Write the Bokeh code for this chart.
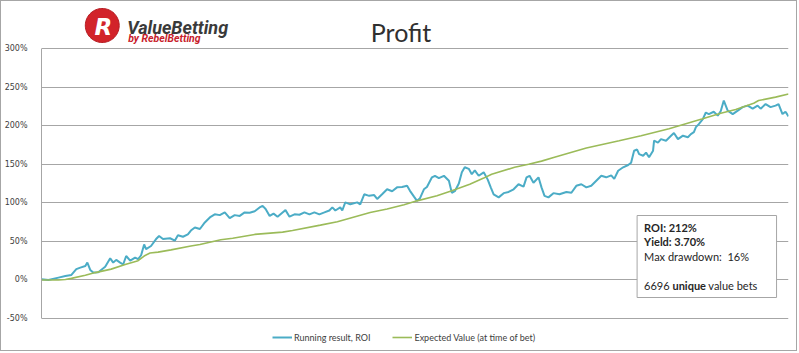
import numpy as np
from bokeh.plotting import figure
from bokeh.models import (Range1d, FixedTicker, Legend, LegendItem, Label,
                          BoxAnnotation, PolyAnnotation)
from bokeh.embed import file_html
from bokeh.resources import INLINE

# ---------------- data ----------------
N_BETS = 6696

run_bets = [0, 62, 152, 214, 268, 312, 348, 393, 411, 437,
            464, 509, 571, 616, 643, 670, 705, 732, 759, 795,
            839, 866, 893, 920, 937, 982, 1027, 1054, 1089, 1152,
            1196, 1223, 1268, 1312, 1339, 1375, 1420, 1464, 1509, 1553,
            1598, 1643, 1687, 1732, 1777, 1821, 1866, 1911, 1955, 1982,
            2009, 2045, 2080, 2116, 2161, 2187, 2223, 2268, 2312, 2357,
            2402, 2446, 2491, 2536, 2580, 2607, 2634, 2678, 2696, 2723,
            2768, 2830, 2857, 2893, 2937, 2982, 3009, 3053, 3098, 3143,
            3187, 3232, 3277, 3303, 3339, 3366, 3393, 3428, 3455, 3500,
            3527, 3562, 3607, 3652, 3678, 3705, 3741, 3768, 3794, 3830,
            3857, 3884, 3919, 3964, 4000, 4027, 4053, 4098, 4143, 4187,
            4232, 4276, 4321, 4348, 4375, 4410, 4455, 4482, 4509, 4544,
            4589, 4643, 4705, 4750, 4794, 4839, 4884, 4928, 4973, 5018,
            5062, 5107, 5134, 5169, 5214, 5259, 5285, 5312, 5339, 5357,
            5393, 5419, 5446, 5482, 5491, 5526, 5553, 5598, 5643, 5669,
            5705, 5750, 5794, 5821, 5848, 5866, 5892, 5928, 5955, 5982,
            6026, 6062, 6089, 6116, 6151, 6196, 6241, 6285, 6330, 6375,
            6419, 6446, 6491, 6535, 6580, 6607, 6642, 6669, 6696]

run_roi = [1, 0, 3, 5, 6.5, 14, 16, 18, 22.5, 13,
           9.5, 10, 17, 28, 22.5, 26, 22.5, 20, 31, 25,
           29, 27, 32, 46, 40, 44, 53, 57, 53, 54,
           51, 58, 56, 59, 64, 68, 66, 74.5, 81, 85,
           84, 87.5, 80, 84, 83, 87.5, 87, 89, 94, 96,
           92, 83, 86, 82, 87.5, 90.5, 82, 85, 84.5, 87.5,
           85, 87.5, 85, 87.5, 90, 94, 90, 94, 90, 100.5,
           98, 100.5, 98, 111, 109, 110, 105, 111, 117.5, 115,
           120, 120.5, 122, 115.5, 108, 102.5, 106, 117.5, 120.5, 133,
           135, 132, 135, 128.5, 113, 115, 125, 139.5, 146, 144,
           137, 142, 135, 139.5, 130, 120, 111, 107, 112.5, 114,
           117.5, 124, 121, 133, 135, 126, 133, 120, 109, 107,
           112.5, 111, 114, 113, 122, 124, 120, 122, 128.5, 135,
           133, 135.5, 131, 141.5, 146, 149, 152, 167.5, 169, 163,
           161, 165, 159, 167.5, 180.5, 178, 182.5, 180.5, 187, 190.5,
           182.5, 187, 185, 189, 191.5, 198, 202, 208.5, 217, 215,
           218, 213, 219, 232.5, 219.5, 215, 219.5, 224, 226, 222,
           226, 222, 228, 224, 226, 228, 215, 218, 212]

ev_bets = [0, 152, 214, 268, 393, 482, 625, 750, 866, 920,
           973, 1045, 1161, 1339, 1420, 1607, 1714, 1911, 2161, 2250,
           2500, 2652, 2946, 3098, 3250, 3366, 3545, 3678, 3839, 3964,
           4035, 4241, 4366, 4482, 4598, 4884, 5178, 5375, 5625, 5919,
           6089, 6223, 6384, 6428, 6580, 6696]

ev_roi = [0, 0, 0.5, 2, 6, 9.5, 14, 20, 25, 31,
          35, 36, 39, 44, 46, 52, 54, 59, 62, 64,
          71, 75.5, 87.5, 92, 97.5, 102.5, 109, 115.5, 124, 132,
          137, 146, 150, 154, 159, 171, 180.5, 187, 196, 208.5,
          216, 221, 229, 232.5, 237, 241]

y_ticks = [-50, 0, 50, 100, 150, 200, 250, 300]
y_tick_labels = ["-50%", "0%", "50%", "100%", "150%", "200%", "250%", "300%"]

series_names = ["Running result, ROI", "Expected Value (at time of bet)"]
title_text = "Profit"
stats_lines = ["ROI: 212%", "Yield: 3.70%", "Max drawdown: \u00a016%"]
bets_words = ["6696", "unique", "value bets"]

# ---------------- layout constants (page pixels) ----------------
W, H = 797, 351            # + 1px CSS border on each side = 799 x 353
L, R = 38, 788             # plot area left / right on the page
PY_TOP, PY_BOT = 48, 318   # page rows of the 300% and -50% lines
Y_PER_PX = (300 - (-50)) / (PY_BOT - PY_TOP)


def dx(px):
    return (px - L) / (R - L) * N_BETS


def dy(py):
    return 300 - (py - PY_TOP) * Y_PER_PX


# the frame covers the full height (page rows 1..352) so header and legend
# can live inside it; the axis itself is bounded to -50..300
p = figure(width=W, height=H, output_backend="svg", toolbar_location=None,
           x_axis_type=None,
           x_range=Range1d(0, N_BETS), y_range=Range1d(dy(352), dy(1)),
           min_border_left=L - 1, min_border_right=W - (R - 1),
           min_border_top=0, min_border_bottom=0)
p.outline_line_color = None
p.background_fill_color = "white"
p.border_fill_color = "white"
p.styles = {"border": "1px solid #a6a6a6"}

ticker = FixedTicker(ticks=y_ticks)
ax = p.yaxis[0]
ax.ticker = ticker
ax.bounds = (y_ticks[0], y_ticks[-1])
ax.major_label_overrides = {t: s for t, s in zip(y_ticks, y_tick_labels)}
ax.major_tick_line_color = None
ax.minor_tick_line_color = None
ax.axis_line_color = "#a6a6a6"
ax.major_label_text_font = "DejaVu Sans"
ax.major_label_text_font_size = "8px"
ax.major_label_text_color = "#404040"
ax.major_label_standoff = 8
p.ygrid[0].ticker = ticker
p.ygrid[0].grid_line_color = "#a6a6a6"
p.ygrid[0].grid_line_width = 1

r1 = p.line(run_bets, run_roi, line_color="#4bacc6", line_width=2)
r2 = p.line(ev_bets, ev_roi, line_color="#9bbb59", line_width=1.6)

legend = Legend(items=[LegendItem(label=series_names[0], renderers=[r1]),
                       LegendItem(label=series_names[1], renderers=[r2])],
                orientation="horizontal", location=(269 - L, 8),
                padding=0, margin=0, spacing=22, label_standoff=2,
                glyph_width=20, glyph_height=14, label_height=14,
                label_text_font="Lato", label_text_font_size="9px",
                label_text_color="#404040",
                border_line_color=None, background_fill_alpha=0)
p.add_layout(legend)

# stats box
p.add_layout(BoxAnnotation(left=dx(636), right=dx(776), top=dy(215), bottom=dy(297),
                           fill_color="white", fill_alpha=1,
                           line_color="#a6a6a6", line_alpha=1, line_width=1))
rows_y = [227, 241, 256]
for i, (txt, yy) in enumerate(zip(stats_lines, rows_y)):
    p.add_layout(Label(x=dx(643), y=dy(yy), text=txt, text_baseline="middle",
                       text_font="Lato", text_font_size="11px",
                       text_font_style="bold" if i < 2 else "normal",
                       text_color="#262626"))
for txt, xx, st in zip(bets_words, [643, 671.5, 707.5], ["normal", "bold", "normal"]):
    p.add_layout(Label(x=dx(xx), y=dy(285), text=txt, text_baseline="middle",
                       text_font="Lato", text_font_size="11px",
                       text_font_style=st, text_color="#262626"))

# title
p.add_layout(Label(x=dx(399), y=dy(31), text=title_text, text_align="center",
                   text_baseline="alphabetic", text_font="Lato",
                   text_font_size="25px", text_color="#303030"))

# logo
th = np.linspace(0, 2 * np.pi, 72)
p.add_layout(PolyAnnotation(xs=[dx(99 + 17 * np.cos(t)) for t in th],
                            ys=[dy(25 + 17 * np.sin(t)) for t in th],
                            fill_color="#d2232a", fill_alpha=1,
                            line_color="#b51c22", line_alpha=1, line_width=1))
p.add_layout(Label(x=dx(100), y=dy(26), text="R", text_align="center",
                   text_baseline="middle", text_font="DejaVu Sans",
                   text_font_size="23px", text_font_style="bold italic",
                   text_color="white"))
p.add_layout(Label(x=dx(124), y=dy(27), text="ValueBetting",
                   text_baseline="alphabetic", text_font="Roboto",
                   text_font_size="18px", text_font_style="bold italic",
                   text_color="#3a3a3a"))
p.add_layout(Label(x=dx(125), y=dy(38), text="by RebelBetting",
                   text_baseline="alphabetic", text_font="Roboto",
                   text_font_size="10.5px", text_font_style="bold italic",
                   text_color="#c8202a"))

open("out.html", "w").write(file_html(p, INLINE))
